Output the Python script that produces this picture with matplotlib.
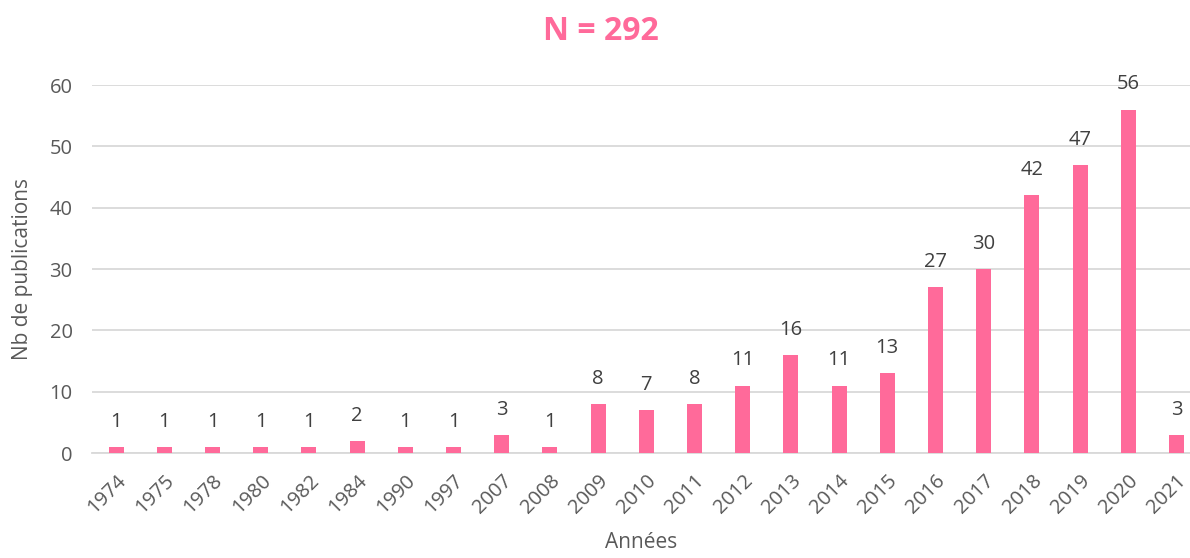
import numpy as np
import matplotlib.pyplot as plt

# data
years = ['1974', '1975', '1978', '1980', '1982', '1984', '1990', '1997', '2007', '2008',
         '2009', '2010', '2011', '2012', '2013', '2014', '2015', '2016', '2017', '2018',
         '2019', '2020', '2021']
counts = [1, 1, 1, 1, 1, 2, 1, 1, 3, 1, 8, 7, 8, 11, 16, 11, 13, 27, 30, 42, 47, 56, 3]
yticks = [0, 10, 20, 30, 40, 50, 60]

pink = '#FF6A9A'
txt = '#595959'
grid = '#D9D9D9'

plt.rcParams['font.family'] = ['Open Sans', 'DejaVu Sans']

fig = plt.figure(figsize=(11.9, 5.58), dpi=100)
ax = fig.add_axes([0.0773, 0.188, 0.9227, 0.6595])

x = np.arange(len(years))
ax.bar(x, counts, width=0.31, color=pink, zorder=3)
for xi, c in zip(x, counts):
    ax.text(xi, c + 4.1, str(c), ha='center', va='center', fontsize=14.5, color='#404040')

ax.set_xlim(-0.5, -0.5 + 1098 / 48.2)
ax.set_ylim(0, 60)
ax.set_yticks(yticks)
ax.set_xticks(x)
ax.set_xticklabels(years, rotation=45, ha='right', va='top', rotation_mode='anchor')
ax.tick_params(axis='both', length=0, labelsize=14.5, colors=txt)
ax.tick_params(axis='x', pad=13)
ax.tick_params(axis='y', pad=14)
ax.grid(axis='y', color=grid, linewidth=1.3, zorder=0)
for s in ['top', 'right', 'left']:
    ax.spines[s].set_visible(False)
ax.spines['bottom'].set_color(grid)
ax.spines['bottom'].set_linewidth(1.3)

ax.set_ylabel('Nb de publications', fontsize=15, color=txt, labelpad=12)
ax.set_xlabel('Années', fontsize=15, color=txt, labelpad=10)

fig.text(0.505, 0.943, 'N = 292', ha='center', va='center', fontsize=23,
         fontweight='bold', color=pink)

fig.savefig('out.png', dpi=100)
